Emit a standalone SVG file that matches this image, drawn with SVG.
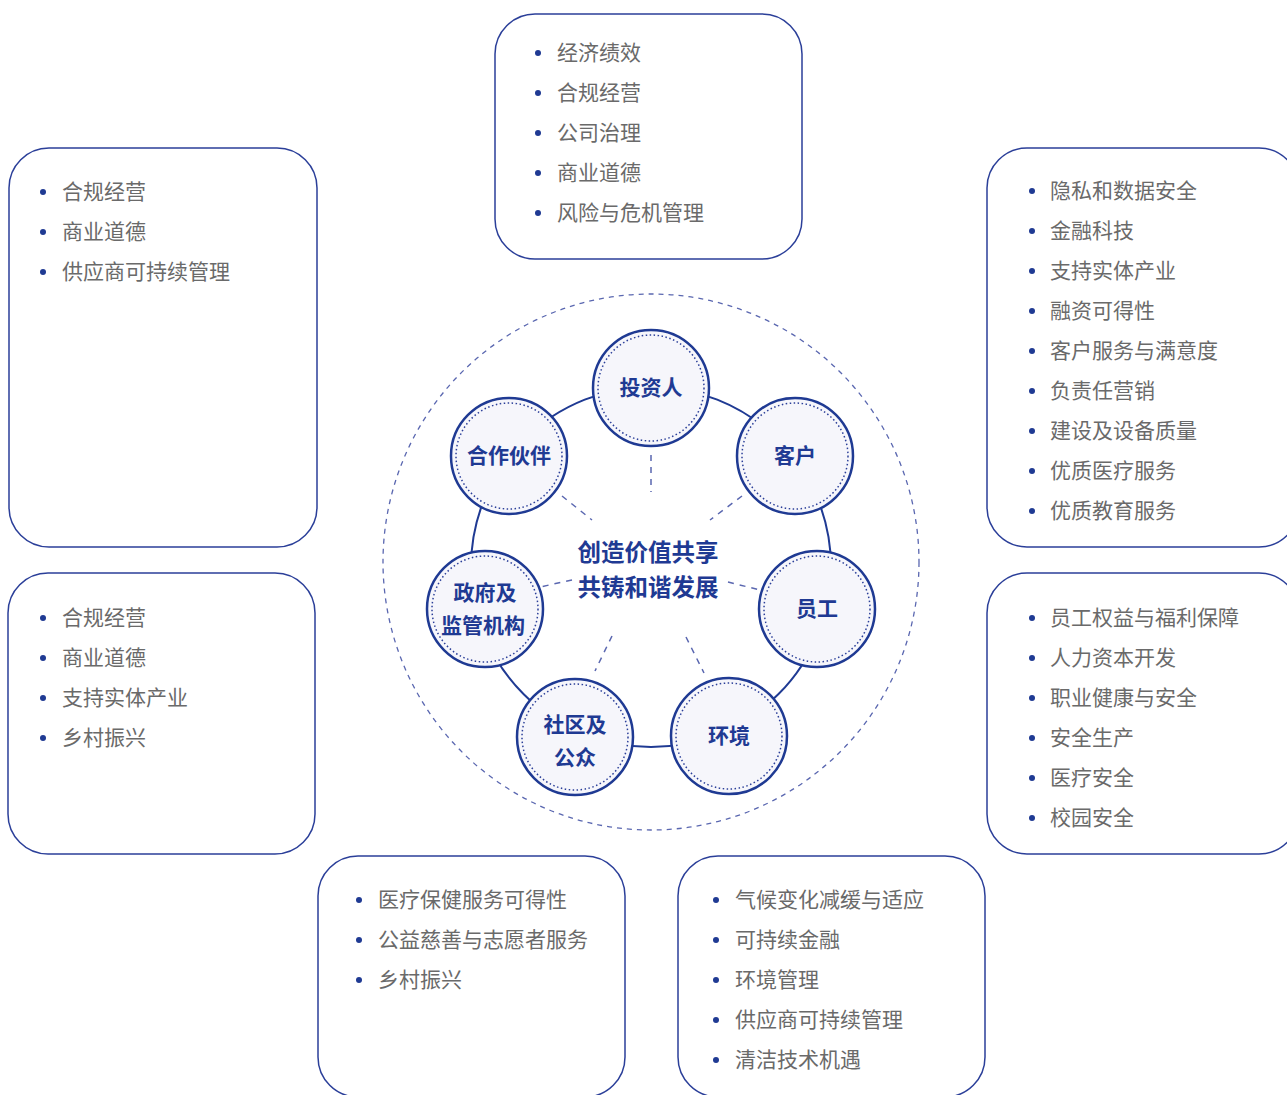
<svg xmlns="http://www.w3.org/2000/svg" width="1287" height="1095" viewBox="0 0 1287 1095">
<defs>
<style>
.box{fill:#fff;stroke:#2b3f99;stroke-width:1.5}
.li{font-family:"Noto Sans CJK SC","Noto Sans",sans-serif;font-size:21px;fill:#6a6a6a}
.dot{fill:#1f3a93}
.nd{fill:#f6f6fb;stroke:#1f3a93;stroke-width:2.5}
.ndi{fill:none;stroke:#2b3f99;stroke-width:1.5;stroke-dasharray:1.5 2.5}
.nt{font-family:"Noto Sans CJK SC","Noto Sans",sans-serif;font-size:21px;font-weight:bold;fill:#1f3a93;text-anchor:middle}
.ct{font-family:"Noto Sans CJK SC","Noto Sans",sans-serif;font-size:23.5px;font-weight:bold;fill:#1f3a93;text-anchor:middle}
.sp{stroke:#5a67b0;stroke-width:1.5;stroke-dasharray:6 6;fill:none}
</style>
</defs>
<rect width="1287" height="1095" fill="#fff"/>

<g id="box-top">
<rect class="box" x="495" y="14" width="307" height="245" rx="40"/>
<g class="dot"><circle cx="538" cy="53" r="3"/><circle cx="538" cy="93" r="3"/><circle cx="538" cy="133" r="3"/><circle cx="538" cy="173" r="3"/><circle cx="538" cy="213" r="3"/></g>
<text class="li" x="557" y="60">经济绩效</text>
<text class="li" x="557" y="100">合规经营</text>
<text class="li" x="557" y="140">公司治理</text>
<text class="li" x="557" y="180">商业道德</text>
<text class="li" x="557" y="220">风险与危机管理</text>
</g>

<g id="box-topleft">
<rect class="box" x="9" y="148" width="308" height="399" rx="40"/>
<g class="dot"><circle cx="43" cy="192" r="3"/><circle cx="43" cy="232" r="3"/><circle cx="43" cy="272" r="3"/></g>
<text class="li" x="62" y="199">合规经营</text>
<text class="li" x="62" y="239">商业道德</text>
<text class="li" x="62" y="279">供应商可持续管理</text>
</g>

<g id="box-topright">
<rect class="box" x="987" y="148" width="312" height="399" rx="40"/>
<g class="dot"><circle cx="1032" cy="191" r="3"/><circle cx="1032" cy="231" r="3"/><circle cx="1032" cy="271" r="3"/><circle cx="1032" cy="311" r="3"/><circle cx="1032" cy="351" r="3"/><circle cx="1032" cy="391" r="3"/><circle cx="1032" cy="431" r="3"/><circle cx="1032" cy="471" r="3"/><circle cx="1032" cy="511" r="3"/></g>
<text class="li" x="1050" y="198">隐私和数据安全</text>
<text class="li" x="1050" y="238">金融科技</text>
<text class="li" x="1050" y="278">支持实体产业</text>
<text class="li" x="1050" y="318">融资可得性</text>
<text class="li" x="1050" y="358">客户服务与满意度</text>
<text class="li" x="1050" y="398">负责任营销</text>
<text class="li" x="1050" y="438">建设及设备质量</text>
<text class="li" x="1050" y="478">优质医疗服务</text>
<text class="li" x="1050" y="518">优质教育服务</text>
</g>

<g id="box-midleft">
<rect class="box" x="8" y="573" width="307" height="281" rx="40"/>
<g class="dot"><circle cx="43" cy="618" r="3"/><circle cx="43" cy="658" r="3"/><circle cx="43" cy="698" r="3"/><circle cx="43" cy="738" r="3"/></g>
<text class="li" x="62" y="625">合规经营</text>
<text class="li" x="62" y="665">商业道德</text>
<text class="li" x="62" y="705">支持实体产业</text>
<text class="li" x="62" y="745">乡村振兴</text>
</g>

<g id="box-midright">
<rect class="box" x="987" y="573" width="312" height="281" rx="40"/>
<g class="dot"><circle cx="1032" cy="618" r="3"/><circle cx="1032" cy="658" r="3"/><circle cx="1032" cy="698" r="3"/><circle cx="1032" cy="738" r="3"/><circle cx="1032" cy="778" r="3"/><circle cx="1032" cy="818" r="3"/></g>
<text class="li" x="1050" y="625">员工权益与福利保障</text>
<text class="li" x="1050" y="665">人力资本开发</text>
<text class="li" x="1050" y="705">职业健康与安全</text>
<text class="li" x="1050" y="745">安全生产</text>
<text class="li" x="1050" y="785">医疗安全</text>
<text class="li" x="1050" y="825">校园安全</text>
</g>

<g id="box-bottomleft">
<rect class="box" x="318" y="856" width="307" height="241" rx="40"/>
<g class="dot"><circle cx="359" cy="900" r="3"/><circle cx="359" cy="940" r="3"/><circle cx="359" cy="980" r="3"/></g>
<text class="li" x="378" y="907">医疗保健服务可得性</text>
<text class="li" x="378" y="947">公益慈善与志愿者服务</text>
<text class="li" x="378" y="987">乡村振兴</text>
</g>

<g id="box-bottomright">
<rect class="box" x="678" y="856" width="307" height="241" rx="40"/>
<g class="dot"><circle cx="716" cy="900" r="3"/><circle cx="716" cy="940" r="3"/><circle cx="716" cy="980" r="3"/><circle cx="716" cy="1020" r="3"/><circle cx="716" cy="1060" r="3"/></g>
<text class="li" x="735" y="907">气候变化减缓与适应</text>
<text class="li" x="735" y="947">可持续金融</text>
<text class="li" x="735" y="987">环境管理</text>
<text class="li" x="735" y="1027">供应商可持续管理</text>
<text class="li" x="735" y="1067">清洁技术机遇</text>
</g>

<g id="connectors">
<circle cx="651" cy="562" r="268" fill="none" stroke="#5a67b0" stroke-width="1.3" stroke-dasharray="5 5"/>
<circle cx="651" cy="567" r="180" fill="none" stroke="#1f3a93" stroke-width="2"/>
<line class="sp" x1="651" y1="455" x2="651" y2="492"/>
<line class="sp" x1="742" y1="496" x2="710" y2="520"/>
<line class="sp" x1="728" y1="582" x2="760" y2="590"/>
<line class="sp" x1="686" y1="637" x2="704" y2="673"/>
<line class="sp" x1="612" y1="636" x2="595" y2="671"/>
<line class="sp" x1="572" y1="580" x2="540" y2="587"/>
<line class="sp" x1="562" y1="496" x2="592" y2="520"/>
</g>

<g id="center">
<text class="ct" x="648" y="561">创造价值共享</text>
<text class="ct" x="648" y="596">共铸和谐发展</text>
</g>

<g id="node-investor">
<circle class="nd" cx="651" cy="388" r="58"/><circle class="ndi" cx="651" cy="388" r="53"/>
<text class="nt" x="651" y="395">投资人</text>
</g>
<g id="node-customer">
<circle class="nd" cx="795" cy="456" r="58"/><circle class="ndi" cx="795" cy="456" r="53"/>
<text class="nt" x="795" y="463">客户</text>
</g>
<g id="node-employee">
<circle class="nd" cx="817" cy="609" r="58"/><circle class="ndi" cx="817" cy="609" r="53"/>
<text class="nt" x="817" y="616">员工</text>
</g>
<g id="node-environment">
<circle class="nd" cx="729" cy="736" r="58"/><circle class="ndi" cx="729" cy="736" r="53"/>
<text class="nt" x="729" y="743">环境</text>
</g>
<g id="node-community">
<circle class="nd" cx="575" cy="737" r="58"/><circle class="ndi" cx="575" cy="737" r="53"/>
<text class="nt" x="575" y="732">社区及</text>
<text class="nt" x="575" y="765">公众</text>
</g>
<g id="node-government">
<circle class="nd" cx="485" cy="609" r="58"/><circle class="ndi" cx="485" cy="609" r="53"/>
<text class="nt" x="485" y="600">政府及</text>
<text class="nt" x="483" y="633">监管机构</text>
</g>
<g id="node-partner">
<circle class="nd" cx="509" cy="456" r="58"/><circle class="ndi" cx="509" cy="456" r="53"/>
<text class="nt" x="509" y="463">合作伙伴</text>
</g>
</svg>
